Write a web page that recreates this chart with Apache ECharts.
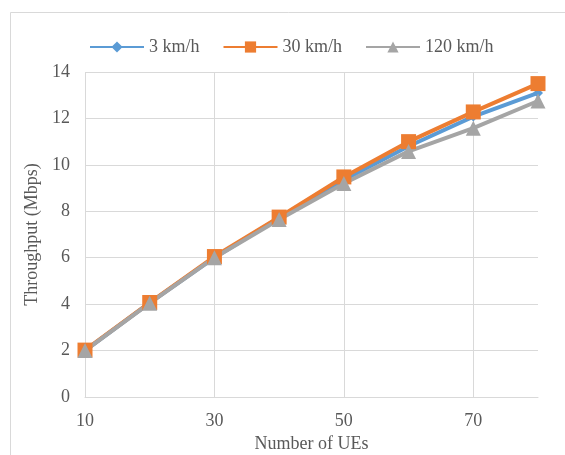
<!DOCTYPE html>
<html>
<head>
<meta charset="utf-8">
<script src="https://cdn.jsdelivr.net/npm/echarts@6/dist/echarts.min.js"></script>
<style>
  html, body { margin: 0; padding: 0; background: #ffffff; }
  #chart { width: 565px; height: 455px; }
</style>
</head>
<body>
<div id="chart"></div>
<script>
// Number of UEs on the horizontal axis
const ues = ['10', '20', '30', '40', '50', '60', '70', '80'];
// Throughput (Mbps) per UE speed
const speed3 = [2.0, 4.05, 6.0, 7.72, 9.35, 10.8, 12.08, 13.1];
const speed30 = [2.02, 4.07, 6.05, 7.75, 9.48, 11.0, 12.28, 13.5];
const speed120 = [2.0, 4.04, 6.0, 7.65, 9.2, 10.58, 11.58, 12.75];
const seriesNames = ['3 km/h', '30 km/h', '120 km/h'];

const FONT = '"Liberation Serif", "Times New Roman", serif';
const TEXT = '#595959';
const GRID = '#d9d9d9';

const chart = echarts.init(document.getElementById('chart'), null, { renderer: 'canvas' });

chart.setOption({
  animation: false,
  backgroundColor: '#ffffff',
  graphic: [{
    type: 'rect',
    shape: { x: 10.5, y: 12.5, width: 600, height: 500 },
    style: { fill: 'none', stroke: GRID, lineWidth: 1 },
    silent: true
  }],
  legend: {
    left: 84,
    top: 33,
    itemWidth: 54,
    itemHeight: 14,
    itemGap: 23,
    textStyle: { fontFamily: FONT, fontSize: 18, color: TEXT },
    data: seriesNames
  },
  grid: { left: 85, right: 27, top: 72, bottom: 58, outerBoundsMode: 'none', containLabel: false },
  xAxis: {
    type: 'category',
    data: ues,
    boundaryGap: false,
    name: 'Number of UEs',
    nameLocation: 'middle',
    nameGap: 33,
    nameTextStyle: { fontFamily: FONT, fontSize: 18, color: TEXT },
    axisLine: { show: true, lineStyle: { color: GRID, width: 1 } },
    axisTick: { show: false },
    axisLabel: { interval: 1, margin: 15, fontFamily: FONT, fontSize: 18, color: TEXT },
    splitLine: { show: true, interval: 1, lineStyle: { color: GRID, width: 1 } }
  },
  yAxis: {
    type: 'value',
    min: 0,
    max: 14,
    interval: 2,
    name: 'Throughput (Mbps)',
    nameLocation: 'middle',
    nameGap: 38,
    nameTextStyle: { fontFamily: FONT, fontSize: 18, color: TEXT },
    axisLine: { show: false },
    axisTick: { show: false },
    axisLabel: { margin: 15, fontFamily: FONT, fontSize: 18, color: TEXT },
    splitLine: { show: true, lineStyle: { color: GRID, width: 1 } }
  },
  series: [
    {
      name: seriesNames[0], type: 'line', data: speed3,
      symbol: 'diamond', symbolSize: 10, showAllSymbol: true,
      color: '#5b9bd5',
      lineStyle: { width: 4, color: '#5b9bd5' },
      itemStyle: { color: '#5b9bd5' }
    },
    {
      name: seriesNames[1], type: 'line', data: speed30,
      symbol: 'rect', symbolSize: 15, showAllSymbol: true,
      color: '#ed7d31',
      lineStyle: { width: 4, color: '#ed7d31' },
      itemStyle: { color: '#ed7d31' }
    },
    {
      name: seriesNames[2], type: 'line', data: speed120,
      symbol: 'triangle', symbolSize: 15, showAllSymbol: true,
      color: '#a5a5a5',
      lineStyle: { width: 4, color: '#a5a5a5' },
      itemStyle: { color: '#a5a5a5' }
    }
  ]
});
</script>
</body>
</html>
